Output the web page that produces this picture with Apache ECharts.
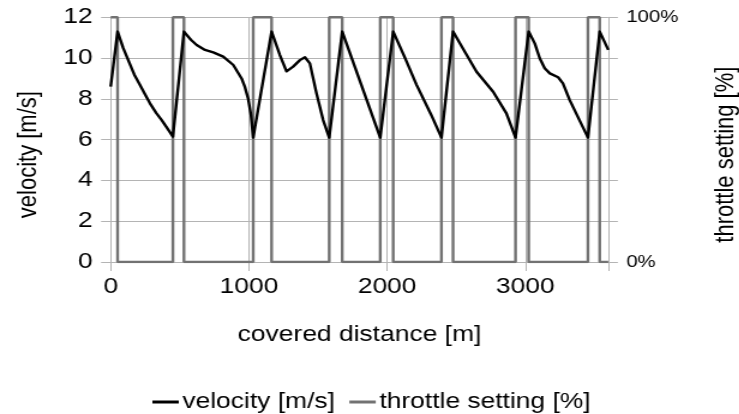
<!DOCTYPE html>
<html>
<head>
<meta charset="utf-8">
<script src="https://cdn.jsdelivr.net/npm/echarts@6/dist/echarts.min.js"></script>
<style>
html,body{margin:0;padding:0;background:#fff;overflow:hidden;}
#wrap{width:739px;height:414px;overflow:hidden;}
#chart{width:616px;height:414px;transform:scaleX(1.2);transform-origin:0 0;}
</style>
</head>
<body>
<div id="wrap"><div id="chart"></div></div>
<script>
// covered distance [m] and velocity [m/s]
const velDist = [0, 50, 90, 127, 170, 212, 250, 284, 330, 369, 410, 450,
  530, 580, 622, 682, 742, 814, 887, 947, 970, 995, 1015, 1031,
  1164, 1224, 1272, 1320, 1369, 1405, 1441, 1489, 1537, 1581,
  1675, 1950,
  2044, 2130, 2212, 2320, 2393,
  2477, 2562, 2647, 2767, 2863, 2929,
  3024, 3068, 3104, 3140, 3177, 3237, 3272, 3321, 3453,
  3538, 3600];
const velValue = [8.6, 11.3, 10.5, 9.9, 9.2, 8.68, 8.2, 7.78, 7.3, 6.96, 6.55, 6.15,
  11.3, 10.9, 10.64, 10.4, 10.28, 10.07, 9.66, 9.0, 8.6, 8.0, 7.2, 6.1,
  11.3, 10.15, 9.35, 9.58, 9.9, 10.04, 9.74, 8.27, 6.96, 6.1,
  11.3, 6.1,
  11.3, 10.0, 8.7, 7.2, 6.1,
  11.3, 10.31, 9.33, 8.35, 7.29, 6.1,
  11.3, 10.72, 9.99, 9.5, 9.25, 9.06, 8.76, 7.94, 6.1,
  11.3, 10.4];
// throttle setting [%] change points (held until next point)
const thrDist = [0, 50, 450, 530, 1031, 1164, 1581, 1675, 1950, 2044, 2393, 2477, 2929, 3024, 3453, 3538, 3600];
const thrValue = [100, 0, 100, 0, 100, 0, 100, 0, 100, 0, 100, 0, 100, 0, 100, 0, 0];
// axis ticks
const xTicks = [0, 1000, 2000, 3000];
const yTicks = [0, 2, 4, 6, 8, 10, 12];
const rightTicks = ['0%', '100%'];

const velData = velDist.map((d, i) => [d, velValue[i]]);
const thrData = thrDist.map((d, i) => [d, thrValue[i]]);

const gridColor = '#b4b4b4';
const font = 'Liberation Sans';
const chart = echarts.init(document.getElementById('chart'));
chart.setOption({
  animation: false,
  textStyle: { fontFamily: font },
  grid: { left: 92.25, right: 109.1, top: 17.3, bottom: 152, outerBoundsMode: 'none' },
  legend: {
    left: 122,
    top: 386,
    itemWidth: 22,
    itemHeight: 3,
    itemGap: 12,
    icon: 'rect',
    textStyle: { fontSize: 22, color: '#000', fontFamily: font, padding: [0, 0, 0, -2] },
    data: ['velocity [m/s]', 'throttle setting [%]']
  },
  xAxis: {
    type: 'value',
    min: 0, max: 3600, interval: 1000,
    name: 'covered distance [m]',
    nameLocation: 'middle',
    nameGap: 62,
    nameTextStyle: { fontSize: 22, color: '#000', fontFamily: font },
    axisLine: { show: true, lineStyle: { color: gridColor, width: 1 } },
    axisTick: { show: true, length: 9, lineStyle: { color: gridColor } },
    axisLabel: {
      fontSize: 22, color: '#000', margin: 14, fontFamily: font,
      formatter: v => (xTicks.indexOf(v) >= 0 ? String(v) : '')
    },
    splitLine: { show: true, lineStyle: { color: gridColor, width: 1 } }
  },
  yAxis: [{
    type: 'value',
    min: 0, max: 12, interval: 2,
    position: 'left',
    name: 'velocity [m/s]',
    nameLocation: 'middle',
    nameRotate: 90,
    nameGap: 57,
    nameTextStyle: { fontSize: 22, color: '#000', fontFamily: font, padding: [0, 30, 0, 0] },
    axisLine: { show: true, lineStyle: { color: gridColor, width: 1 } },
    axisTick: { show: true, length: 8, lineStyle: { color: gridColor } },
    axisLabel: {
      fontSize: 22, color: '#000', margin: 15, fontFamily: font,
      formatter: v => (yTicks.indexOf(v) >= 0 ? String(v) : '')
    },
    splitLine: { show: true, lineStyle: { color: gridColor, width: 1 } }
  }, {
    type: 'value',
    min: 0, max: 100, interval: 100 / 6,
    position: 'right',
    name: 'throttle setting [%]',
    nameLocation: 'middle',
    nameRotate: 90,
    nameGap: 87,
    nameTextStyle: { fontSize: 22, color: '#000', fontFamily: font, padding: [0, 30, 0, 0] },
    axisLine: { show: true, lineStyle: { color: gridColor, width: 1 } },
    axisTick: { show: true, length: 8, lineStyle: { color: gridColor } },
    axisLabel: {
      fontSize: 17, color: '#000', margin: 15, fontFamily: font,
      formatter: v => (Math.abs(v) < 1e-6 ? rightTicks[0] : (Math.abs(v - 100) < 1e-6 ? rightTicks[1] : ''))
    },
    splitLine: { show: false }
  }],
  series: [{
    name: 'velocity [m/s]',
    type: 'line',
    yAxisIndex: 0,
    data: velData,
    symbol: 'none',
    z: 3,
    lineStyle: { color: '#000', width: 2.4, join: 'round' },
    itemStyle: { color: '#000' }
  }, {
    name: 'throttle setting [%]',
    type: 'line',
    yAxisIndex: 1,
    data: thrData,
    step: 'end',
    symbol: 'none',
    z: 2,
    lineStyle: { color: '#727272', width: 2.4 },
    itemStyle: { color: '#727272' }
  }]
});
</script>
</body>
</html>
